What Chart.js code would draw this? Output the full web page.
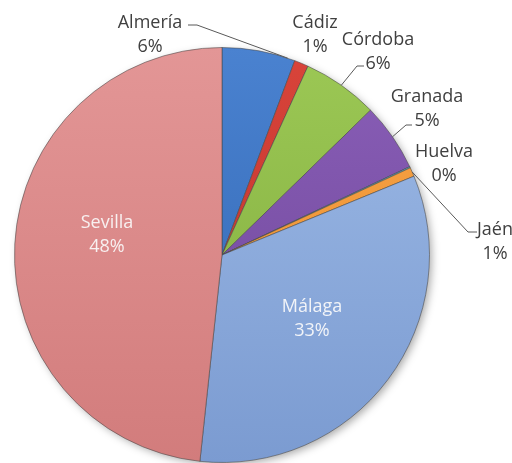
<!DOCTYPE html>
<html>
<head>
<meta charset="utf-8">
<script src="https://cdn.jsdelivr.net/npm/chart.js@4.4.1/dist/chart.umd.min.js"></script>
<style>
  html, body { margin: 0; padding: 0; background: #fff; }
  canvas { display: block; }
</style>
</head>
<body>
<canvas id="pieChart" width="512" height="463"></canvas>
<script>
// ==========================================
// DATOS
// ==========================================
const provincias = ['Almería', 'Cádiz', 'Córdoba', 'Granada', 'Huelva', 'Jaén', 'Málaga', 'Sevilla'];
const porcentajes = [5.7, 1.1, 5.9, 5.3, 0.1, 0.7, 32.9, 48.3];

// ==========================================
// ESTILO
// ==========================================
const coloresClaros = ['#4A82D0', '#D9443A', '#9CC855', '#8A5FB8', '#4BACC6', '#F8A548', '#9DBAE6', '#E39696'];
const coloresOscuros = ['#2F64B0', '#B8302A', '#7FAA3C', '#6C4496', '#3590AA', '#E88A2A', '#7B9BD1', '#D27C7C'];

// posicion de cada etiqueta respecto al centro de la tarta (x centrada, y = linea base del nombre)
const etiquetas = [
    { dx: -72, dy: -227, color: '#404040', guia: { x1: -34, x2: -25, y: -230, frac: 0.9 } },
    { dx: 93,  dy: -227, color: '#404040', guia: null },
    { dx: 156, dy: -210, color: '#404040', guia: { x1: 142, x2: 135, y: -189, frac: 0.5 } },
    { dx: 205, dy: -153, color: '#404040', guia: { x1: 190, x2: 184, y: -130, frac: 0.5 } },
    { dx: 222, dy: -98,  color: '#404040', guia: null },
    { dx: 273, dy: -20,  color: '#404040', guia: { x1: 255, x2: 246, y: -23, frac: 0.5 } },
    { dx: 90,  dy: 57,   color: '#F2F4F8', guia: null },
    { dx: -115, dy: -27, color: '#F8F0F0', guia: null }
];

const total = porcentajes.reduce((a, b) => a + b, 0);

function degradado(context) {
    const chart = context.chart;
    const area = chart.chartArea;
    if (!area) return coloresClaros[context.dataIndex];
    const g = chart.ctx.createLinearGradient(0, area.top, 0, area.bottom);
    g.addColorStop(0, coloresClaros[context.dataIndex]);
    g.addColorStop(1, coloresOscuros[context.dataIndex]);
    return g;
}

// sombra bajo la tarta
const sombraPlugin = {
    id: 'sombra',
    beforeDatasetsDraw(chart) {
        const arc = chart.getDatasetMeta(0).data[0];
        if (!arc) return;
        const { x, y, outerRadius } = arc.getProps(['x', 'y', 'outerRadius'], true);
        const ctx = chart.ctx;
        ctx.save();
        ctx.shadowColor = 'rgba(0,0,0,0.35)';
        ctx.shadowBlur = 8;
        ctx.shadowOffsetX = 3;
        ctx.shadowOffsetY = 3;
        ctx.fillStyle = '#ffffff';
        ctx.beginPath();
        ctx.arc(x, y, outerRadius - 1, 0, Math.PI * 2);
        ctx.fill();
        ctx.restore();
    }
};

// etiquetas y lineas guia
const etiquetasPlugin = {
    id: 'etiquetas',
    afterDatasetsDraw(chart) {
        const ctx = chart.ctx;
        const meta = chart.getDatasetMeta(0);
        ctx.save();
        ctx.font = '18px "Open Sans"';
        ctx.textAlign = 'center';
        ctx.textBaseline = 'alphabetic';
        meta.data.forEach((arc, i) => {
            const p = arc.getProps(['x', 'y', 'startAngle', 'endAngle', 'outerRadius'], true);
            const et = etiquetas[i];
            const lx = p.x + et.dx;
            const ly = p.y + et.dy;

            if (et.guia) {
                const a = p.startAngle + (p.endAngle - p.startAngle) * et.guia.frac;
                const ax = p.x + Math.cos(a) * p.outerRadius;
                const ay = p.y + Math.sin(a) * p.outerRadius;
                ctx.strokeStyle = '#595959';
                ctx.lineWidth = 1;
                ctx.beginPath();
                ctx.moveTo(p.x + et.guia.x1, p.y + et.guia.y);
                ctx.lineTo(p.x + et.guia.x2, p.y + et.guia.y);
                ctx.lineTo(ax, ay);
                ctx.stroke();
            }

            const pct = Math.round(porcentajes[i] / total * 100) + '%';
            ctx.fillStyle = et.color;
            ctx.fillText(provincias[i], lx, ly);
            ctx.fillText(pct, lx, ly + 24);
        });
        ctx.restore();
    }
};

new Chart(document.getElementById('pieChart'), {
    type: 'pie',
    data: {
        labels: provincias,
        datasets: [{
            data: porcentajes,
            backgroundColor: degradado,
            borderColor: 'rgba(70,70,70,0.55)',
            borderWidth: 1
        }]
    },
    options: {
        responsive: false,
        animation: false,
        layout: { padding: { left: 14, right: 82, top: 47, bottom: 0 } },
        plugins: {
            legend: { display: false },
            tooltip: { enabled: false }
        }
    },
    plugins: [sombraPlugin, etiquetasPlugin]
});
</script>
</body>
</html>
